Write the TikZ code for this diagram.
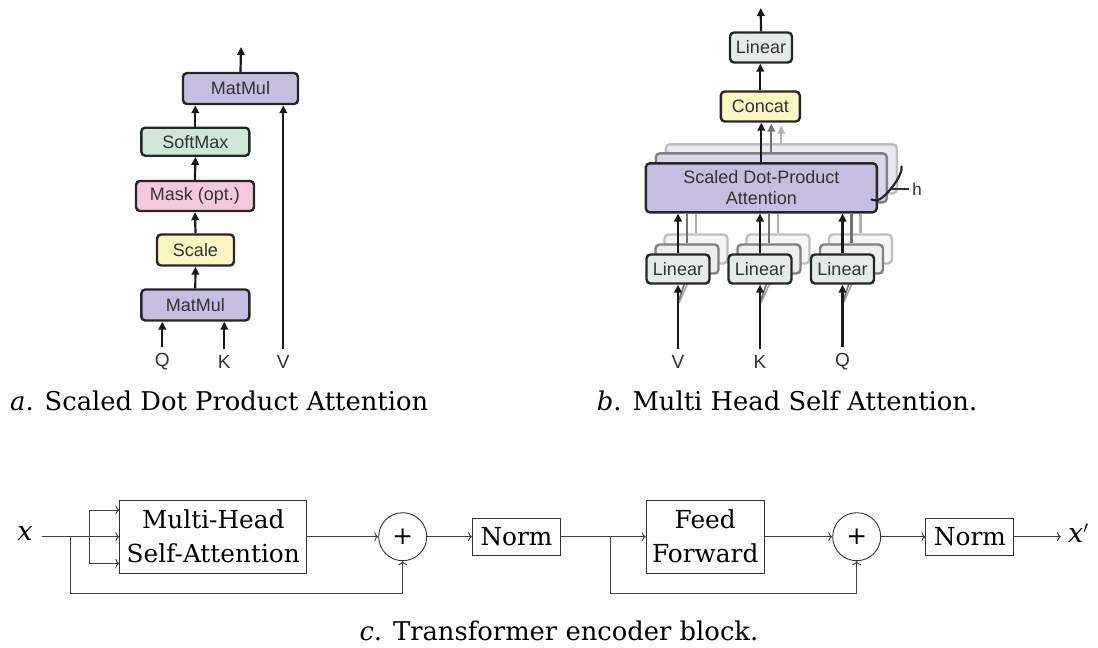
\documentclass[tikz,border=0pt]{standalone}
\usepackage{fontspec}
\setmainfont{DejaVu Serif}
\newfontfamily\absf{Liberation Sans}
\usetikzlibrary{arrows.meta}
\definecolor{apurple}{HTML}{C5BEE0}
\definecolor{agreen}{HTML}{CFE8D6}
\definecolor{apink}{HTML}{F6C8DE}
\definecolor{ayellow}{HTML}{FBF6C2}
\definecolor{agray}{HTML}{E5EBE9}
\begin{document}
\begin{tikzpicture}[x=1pt,y=-1pt,
  abox/.style={draw=black!85, line width=2.4pt, rounded corners=4pt, inner sep=0pt,
    font=\absf\fontsize{18}{21}\selectfont, text=black!80, align=center},
  aarr/.style={draw=black!90, line width=2.2pt, -{Triangle[length=8pt,width=7.5pt]}},
  alabel/.style={inner sep=0pt, font=\absf\fontsize{19}{19}\selectfont, text=black!80},
  cbox/.style={draw=black!80, line width=0.9pt, inner sep=0pt, align=center,
    font=\fontsize{24.8}{34}\selectfont},
  cline/.style={draw=black!75, line width=0.9pt},
  carr/.style={cline, -{To[length=4pt,width=9pt]}},
  captxt/.style={anchor=base west, inner sep=0pt, font=\fontsize{25.8}{30}\selectfont}
]
\useasboundingbox (0,0) rectangle (1098,648);

% ---------------- Part a ----------------
\node[abox, fill=apurple, minimum width=115pt, minimum height=31pt] (mmtop) at (240.5,88.5) {MatMul};
\node[abox, fill=agreen,  minimum width=108pt, minimum height=28pt] (sm) at (195.3,141.7) {SoftMax};
\node[abox, fill=apink,   minimum width=118pt, minimum height=30pt] (mask) at (195,196) {Mask (opt.)};
\node[abox, fill=ayellow, minimum width=77pt,  minimum height=31pt] (scale) at (195.5,250) {Scale};
\node[abox, fill=apurple, minimum width=108pt, minimum height=31pt] (mmbot) at (195.3,305) {MatMul};
\node[alabel] (qa) at (162.3,362) {Q};
\node[alabel] (ka) at (224.3,362) {K};
\node[alabel] (va) at (283.3,362) {V};
\coordinate (outa) at (241,47);

\draw[aarr] (mmtop.north) -- (outa);
\draw[aarr] (sm.north) -- (sm.north |- mmtop.south);
\draw[aarr] (mask.north) -- (sm.south);
\draw[aarr] (scale.north) -- (mask.south);
\draw[aarr] (mmbot.north) -- (scale.south);
\draw[aarr] ([yshift=6pt]qa.north) -- (qa.north |- mmbot.south);
\draw[aarr] ([yshift=6pt]ka.north) -- (ka.north |- mmbot.south);
\draw[aarr] ([yshift=6pt]va.north) -- (va.north |- mmtop.south);

% ---------------- Part b ----------------
% back copies of attention block
\node[abox, draw=black!25, fill=apurple!35, minimum width=231pt, minimum height=49pt] (sdpac) at (781.3,168.8) {};
\node[abox, draw=black!50, fill=apurple!65, minimum width=231pt, minimum height=49pt] (sdpab) at (771.3,177.8) {};
\node[abox, fill=apurple, minimum width=231pt, minimum height=49pt] (sdpa) at (761.3,187.8) {Scaled Dot-Product\\Attention};

\node[abox, fill=agray, minimum width=62pt, minimum height=30pt] (lintop) at (761,47.5) {Linear};
\node[abox, fill=ayellow, minimum width=79pt, minimum height=30pt] (concat) at (760.3,106.5) {Concat};

% linear copies
\foreach \n/\cx in {1/678, 2/760, 3/842.5}{
  \node[abox, draw=black!25, fill=agray!45, minimum width=63pt, minimum height=29pt] (l\n c) at (\cx+18,249) {};
  \node[abox, draw=black!50, fill=agray!75, minimum width=63pt, minimum height=29pt] (l\n b) at (\cx+9,259) {};
  \draw[line width=2.2pt, black!30] (l\n c.north) -- (l\n c.north |- sdpa.south);
  \draw[line width=2.2pt, black!55] (l\n b.north) -- (l\n b.north |- sdpa.south);
  \draw[line width=1.6pt, black!35] (\cx+1,303) -- (\cx+12,278);
  \draw[line width=1.6pt, black!55] (\cx+1,300) -- (\cx+7,282);
  \node[abox, fill=agray, minimum width=63pt, minimum height=29pt] (l\n) at (\cx,269) {Linear};
}
\node[alabel] (vb) at (678,362) {V};
\node[alabel] (kb) at (760,362) {K};
\node[alabel] (qb) at (842.5,362) {Q};
\coordinate (outb) at (760.7,8);

\draw[aarr] (lintop.north) -- (outb);
\draw[aarr] (concat.north) -- (concat.north |- lintop.south);
\draw[aarr, black!30, shorten >=3pt] (sdpac.north) -- (sdpac.north |- concat.south);
\draw[aarr, black!55, shorten >=1pt] (sdpab.north) -- (sdpab.north |- concat.south);
\draw[aarr] (sdpa.north) -- (sdpa.north |- concat.south);
\draw[aarr] (l1.north) -- (l1.north |- sdpa.south);
\draw[aarr] (l2.north) -- (l2.north |- sdpa.south);
\draw[aarr] (l3.north) -- (l3.north |- sdpa.south);
\draw[aarr] ([yshift=6pt]vb.north) -- (vb.north |- l1.south);
\draw[aarr] ([yshift=6pt]kb.north) -- (kb.north |- l2.south);
\draw[aarr] ([yshift=6pt]qb.north) -- (qb.north |- l3.south);

% h brace
\draw[line width=2.2pt, black!85, line cap=round]
  (901.5,166.5) .. controls (903,174) and (892,189) .. (883,197)
  .. controls (879,200.5) and (875,201) .. (871.5,199.5);
\node[alabel, font=\absf\fontsize{17}{17}\selectfont] (hl) at (917,189) {h};
\draw[line width=1.3pt, black!80] (892,189) -- ([xshift=-3pt]hl.west);

% ---------------- Part c ----------------
\node[inner sep=0pt, font=\itshape\fontsize{27}{27}\selectfont] (xin) at (25,533) {x};
\coordinate (b1) at (70,536.7);
\coordinate (f1) at (89.3,536.7);
\coordinate (s1) at (70,593.3);
\coordinate (x0) at (41.7,536.7);
\node[cbox, minimum width=187pt, minimum height=73pt] (mha) at (213.3,536.7) {Multi-Head\\Self-Attention};
\node[cbox, circle, minimum size=48pt] (add1) at (402.7,536.7) {+};
\node[cbox, minimum width=88pt, minimum height=37pt] (norm1) at (516.5,536.7) {Norm};
\coordinate (b2) at (610.7,536.7);
\coordinate (s2) at (610.7,593.3);
\node[cbox, minimum width=118pt, minimum height=73pt] (ff) at (705.2,536.7) {Feed\\Forward};
\node[cbox, circle, minimum size=48pt] (add2) at (856.7,536.7) {+};
\node[cbox, minimum width=88pt, minimum height=37pt] (norm2) at (969.9,536.7) {Norm};
\node[inner sep=0pt, anchor=west, font=\itshape\fontsize{27}{27}\selectfont] (xout) at (1068,533) {x$'$};

\draw[cline] (x0) -- (f1);
\draw[carr] (f1) -- (mha.west);
\draw[carr] (f1) |- ([yshift=26.7pt]mha.west);
\draw[carr] (f1) |- ([yshift=-26.7pt]mha.west);
\draw[carr] (b1) -- (s1) -| (add1.south);
\draw[carr] (mha.east) -- (add1.west);
\draw[carr] (add1.east) -- (norm1.west);
\draw[cline, line width=1.5pt] (norm1.east) -- (b2);
\draw[carr] (b2) -- (ff.west);
\draw[carr] (b2) -- (s2) -| (add2.south);
\draw[carr] (ff.east) -- (add2.west);
\draw[carr] (add2.east) -- (norm2.west);
\draw[carr] (norm2.east) -- ([xshift=-7pt]xout.west |- norm2.east);

% ---------------- captions ----------------
\node[captxt] (capa) at (10,410) {\textit{a}. Scaled Dot Product Attention};
\node[captxt] (capb) at (596.7,410) {\textit{b}. Multi Head Self Attention.};
\node[captxt] (capc) at (359.3,640.7) {\textit{c}. Transformer encoder block.};
\end{tikzpicture}
\end{document}
